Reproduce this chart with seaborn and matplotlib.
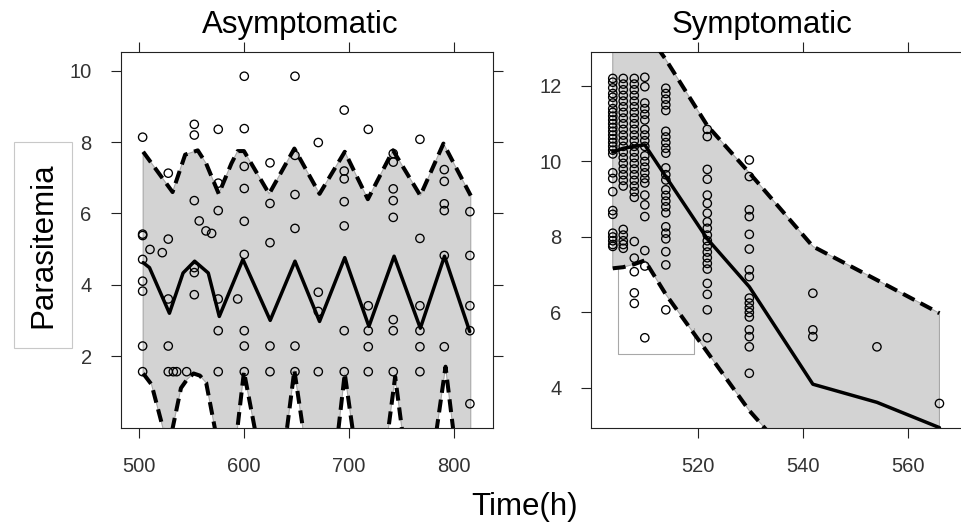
import numpy as np
import pandas as pd
import matplotlib
matplotlib.use("Agg")
import matplotlib.pyplot as plt
import seaborn as sns
from matplotlib.patches import Rectangle

# ---------------- Asymptomatic group ----------------
# observed parasitemia by time (h)
asym_time = [503.5, 503.5, 503.5, 503.5, 503.5, 503.5, 503.5, 503.5,
             510.5, 522.2,
             527.9, 527.9, 527.9, 527.9, 527.9,
             532.7, 535.9, 545.4,
             552.7, 552.7, 552.7, 552.7, 552.7, 552.7,
             557.4, 563.8, 569.2,
             575.5, 575.5, 575.5, 575.5, 575.5, 575.5,
             594.0,
             600.3, 600.3, 600.3, 600.3, 600.3, 600.3, 600.3, 600.3, 600.3,
             624.8, 624.8, 624.8, 624.8, 624.8,
             648.6, 648.6, 648.6, 648.6, 648.6, 648.6,
             670.8, 670.8, 670.8, 670.8,
             695.5, 695.5, 695.5, 695.5, 695.5, 695.5, 695.5,
             718.4, 718.4, 718.4, 718.4, 718.4,
             742.2, 742.2, 742.2, 742.2, 742.2, 742.2, 742.2, 742.2,
             767.6, 767.6, 767.6, 767.6, 767.6, 767.6,
             790.8, 790.8, 790.8, 790.8, 790.8, 790.8,
             815.2, 815.2, 815.2, 815.2, 815.2]
asym_par = [8.14, 5.42, 5.38, 4.71, 4.10, 3.82, 2.28, 1.56,
            4.99, 4.90,
            7.13, 5.28, 3.60, 2.28, 1.56,
            1.56, 1.56, 1.56,
            8.50, 8.20, 6.36, 4.48, 4.34, 3.72,
            5.79, 5.51, 5.44,
            8.36, 6.85, 6.08, 3.60, 2.71, 1.56,
            3.60,
            9.85, 8.38, 7.32, 6.70, 5.78, 4.85, 2.71, 2.28, 1.56,
            7.42, 6.28, 5.18, 2.28, 1.56,
            9.85, 7.63, 6.53, 5.58, 2.28, 1.56,
            7.99, 3.79, 3.25, 1.56,
            8.90, 7.19, 6.97, 6.33, 5.65, 2.71, 1.56,
            8.36, 3.41, 2.71, 2.26, 1.56,
            7.68, 7.44, 6.69, 6.36, 5.89, 3.02, 2.71, 1.56,
            8.08, 5.30, 3.41, 2.71, 2.26, 1.56,
            7.23, 6.90, 6.27, 6.08, 4.82, 2.26,
            6.05, 4.82, 3.41, 2.71, 0.66]

# simulated 95th percentile
asym_hi_time = [504, 532, 544, 556, 564, 576, 588, 594, 600, 624, 648, 672,
                696, 718, 742, 768, 790, 816]
asym_hi = [7.73, 6.60, 7.65, 7.77, 7.40, 6.55, 7.40, 7.75, 7.75, 6.55, 7.82,
           6.55, 7.73, 6.40, 7.77, 6.50, 7.96, 6.50]

# simulated median
asym_med_time = [504, 510, 529, 542, 553, 566, 576.5, 599, 625, 648.6, 672,
                 696, 719, 743, 768, 791, 815]
asym_med = [4.62, 4.48, 3.20, 4.33, 4.66, 4.33, 3.11, 4.71, 3.00, 4.66, 2.97,
            4.76, 2.83, 4.80, 2.78, 4.80, 2.69]

# simulated 5th percentile
asym_lo_time = [504, 512, 528, 540, 546, 552, 558, 564, 576, 588, 600, 612,
                624, 636, 648, 660, 672, 684, 696, 708, 720, 732, 744, 756,
                768, 780, 792, 804, 816]
asym_lo = [1.51, 1.20, -0.60, 1.10, 1.35, 1.51, 1.45, 1.25, -0.60, -1.50,
           1.56, -0.30, -2.00, -1.20, 1.60, -0.80, -2.50, -1.60, 1.51, -1.00,
           -2.50, -1.30, 1.42, -1.30, -2.50, -0.80, 1.70, -1.20, -2.50]

# ---------------- Symptomatic group ----------------
sym_cols = [503.7, 505.7, 507.8, 509.8, 513.8, 521.7, 529.7, 541.8, 554.0, 565.9]
sym_vals = [
    [12.2, 12.1, 11.95, 11.8, 11.7, 11.55, 11.4, 11.3, 11.2, 11.1, 11.0, 10.9,
     10.8, 10.7, 10.6, 10.5, 10.4, 10.3, 10.2, 9.7, 9.55, 9.2, 8.7, 8.6, 8.1,
     8.0, 7.9, 7.8, 7.75],
    [12.2, 12.05, 11.9, 11.75, 11.6, 11.45, 11.3, 11.15, 11.0, 10.85, 10.7,
     10.55, 10.4, 10.25, 10.1, 9.95, 9.8, 9.65, 9.5, 9.35, 8.2, 8.05, 7.9, 7.8,
     7.7],
    [12.2, 12.05, 11.9, 11.75, 11.6, 11.45, 11.3, 11.15, 11.0, 10.85, 10.7,
     10.55, 10.4, 10.25, 10.1, 9.95, 9.8, 9.65, 9.5, 9.35, 9.2, 9.05, 7.88,
     7.44, 7.08, 6.52, 6.24],
    [12.23, 11.98, 11.55, 11.4, 11.25, 11.1, 10.85, 10.7, 10.55, 10.4, 10.15,
     10.0, 9.85, 9.7, 9.55, 9.43, 9.11, 8.85, 8.54, 7.64, 7.23, 5.33],
    [11.94, 11.8, 11.65, 11.5, 11.35, 10.8, 10.65, 10.5, 10.35, 10.22, 9.83,
     9.65, 9.51, 9.25, 9.1, 8.95, 8.8, 8.64, 8.27, 8.1, 7.95, 7.61, 7.26, 6.07],
    [10.85, 10.66, 9.79, 9.53, 9.11, 8.89, 8.63, 8.4, 8.23, 8.05, 7.9, 7.75,
     7.6, 7.45, 7.3, 7.15, 6.77, 6.48, 6.07, 5.33],
    [10.04, 9.6, 8.72, 8.54, 8.07, 7.68, 7.13, 6.95, 6.38, 6.25, 6.12, 6.0,
     5.88, 5.54, 5.36, 5.09, 4.39],
    [6.51, 5.54, 5.36],
    [5.09],
    [3.59],
]

# simulated percentiles at the same bins
sym_hi = [14.6, 14.3, 13.9, 13.5, 12.7, 10.95, 9.70, 7.75, 6.86, 5.98]
sym_med = [10.25, 10.35, 10.40, 10.44, 9.60, 7.95, 6.68, 4.10, 3.62, 2.95]
sym_lo = [7.17, 7.20, 7.28, 7.38, 6.48, 4.95, 3.40, 1.50, 0.80, 0.30]

# outline segment left below the lower bound of the band
sym_box_time = [504.76, 504.76, 519.2, 519.2]
sym_box_par = [7.17, 4.90, 4.90, 5.60]

asym_df = pd.DataFrame({"time": asym_time, "par": asym_par})
sym_df = pd.DataFrame({
    "time": [t for t, v in zip(sym_cols, sym_vals) for _ in v],
    "par": [p for v in sym_vals for p in v],
})

# ---------------- figure ----------------
sns.set_style("white")
plt.rcParams["font.family"] = ["Liberation Sans", "DejaVu Sans"]

W, H = 961, 526
fig = plt.figure(figsize=(W / 100, H / 100), dpi=100)

def px_box(x0, x1, ytop, ybot):
    return [x0 / W, 1 - ybot / H, (x1 - x0) / W, (ybot - ytop) / H]

ax1 = fig.add_axes(px_box(120.7, 493.0, 52, 428))
ax2 = fig.add_axes(px_box(590.7, 961.5, 52, 428))

BAND = "#d3d3d3"
EDGE = "#a8a8a8"
DASH = (0, (3.2, 1.7))


def draw_panel(ax, df, hi_t, hi, med_t, med, lo_t, lo):
    poly_x = np.r_[hi_t, lo_t[::-1]]
    poly_y = np.r_[hi, lo[::-1]]
    ax.fill(poly_x, poly_y, facecolor=BAND, edgecolor=EDGE, linewidth=0.8,
            zorder=1)
    sns.lineplot(x=hi_t, y=hi, ax=ax, sort=False, estimator=None,
                 color="black", linewidth=2.9, zorder=3)
    ax.lines[-1].set_linestyle(DASH)
    sns.lineplot(x=lo_t, y=lo, ax=ax, sort=False, estimator=None,
                 color="black", linewidth=2.9, zorder=3)
    ax.lines[-1].set_linestyle(DASH)
    sns.lineplot(x=med_t, y=med, ax=ax, sort=False, estimator=None,
                 color="black", linewidth=2.5, zorder=3)
    sns.scatterplot(data=df, x="time", y="par", ax=ax, marker="o", s=36,
                    facecolor="none", edgecolor="black", linewidth=0.95,
                    zorder=4)


draw_panel(ax1, asym_df, np.array(asym_hi_time), np.array(asym_hi),
           np.array(asym_med_time), np.array(asym_med),
           np.array(asym_lo_time), np.array(asym_lo))
draw_panel(ax2, sym_df, np.array(sym_cols), np.array(sym_hi),
           np.array(sym_cols), np.array(sym_med),
           np.array(sym_cols), np.array(sym_lo))
ax2.plot(sym_box_time, sym_box_par, color=EDGE, linewidth=0.8, zorder=2)

ax1.set_xlim(482.6, 837.2)
ax1.set_ylim(-0.02, 10.53)
ax1.set_xticks([500, 600, 700, 800])
ax1.set_yticks([2, 4, 6, 8, 10])

ax2.set_xlim(499.5, 570.1)
ax2.set_ylim(2.94, 12.90)
ax2.set_xticks([520, 540, 560])
ax2.set_yticks([4, 6, 8, 10, 12])

for ax in (ax1, ax2):
    ax.set_xlabel("")
    ax.set_ylabel("")
    for sp in ax.spines.values():
        sp.set_visible(True)
        sp.set_color("#222222")
        sp.set_linewidth(0.8)
    ax.tick_params(direction="out", length=7.2, width=0.8, pad=13.7,
                   labelsize=14.5, colors="#222222", labelcolor="#333333",
                   top=True, right=True, bottom=True, left=True,
                   labeltop=False, labelright=False)

fig.text(300 / W, 1 - 33.3 / H, "Asymptomatic", ha="center", va="baseline",
         fontsize=22.5, color="black")
fig.text(761.7 / W, 1 - 33.3 / H, "Symptomatic", ha="center", va="baseline",
         fontsize=22.5, color="black")
fig.text(525 / W, 1 - 515 / H, "Time(h)", ha="center", va="baseline",
         fontsize=22.5, color="black")
fig.text(43 / W, 1 - 245 / H, "Parasitemia", ha="center", va="center",
         rotation=90, fontsize=22.5, color="black")
fig.patches.append(Rectangle((14 / W, 1 - 348 / H), 57.7 / W, 206.3 / H,
                             transform=fig.transFigure, fill=False,
                             edgecolor="#c8c8c8", linewidth=0.8))

fig.savefig("out.png", dpi=100)
